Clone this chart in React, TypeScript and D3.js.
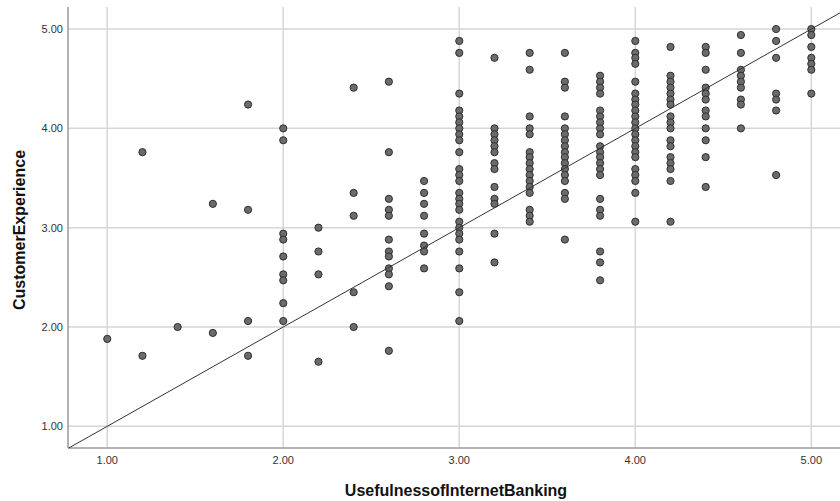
import React, { useEffect, useRef } from "react";
import * as d3 from "d3";

// UsefulnessofInternetBanking levels (x) and CustomerExperience values (y) per level
const xLevels = [1.0, 1.2, 1.4, 1.6, 1.8, 2.0, 2.2, 2.4, 2.6, 2.8, 3.0, 3.2, 3.4, 3.6, 3.8, 4.0, 4.2, 4.4, 4.6, 4.8, 5.0];

const ce_1_0 = [1.88];
const ce_1_2 = [3.76, 1.71];
const ce_1_4 = [2.0];
const ce_1_6 = [3.24, 1.94];
const ce_1_8 = [4.24, 3.18, 2.06, 1.71];
const ce_2_0 = [4.0, 3.88, 2.94, 2.88, 2.71, 2.53, 2.47, 2.24, 2.06];
const ce_2_2 = [3.0, 2.76, 2.53, 1.65];
const ce_2_4 = [4.41, 3.35, 3.12, 2.35, 2.0];
const ce_2_6 = [4.47, 3.76, 3.29, 3.18, 3.12, 2.88, 2.76, 2.71, 2.59, 2.53, 2.41, 1.76];
const ce_2_8 = [3.47, 3.35, 3.24, 3.12, 2.94, 2.82, 2.76, 2.59];
const ce_3_0 = [4.88, 4.76, 4.35, 4.18, 4.12, 4.06, 4.0, 3.94, 3.88, 3.76, 3.59, 3.53, 3.47, 3.35, 3.29, 3.24, 3.18, 3.06, 3.0, 2.94, 2.88, 2.76, 2.59, 2.35, 2.06];
const ce_3_2 = [4.71, 4.0, 3.94, 3.88, 3.82, 3.76, 3.65, 3.59, 3.41, 3.29, 3.24, 2.94, 2.65];
const ce_3_4 = [4.76, 4.59, 4.12, 4.0, 3.94, 3.76, 3.71, 3.65, 3.59, 3.53, 3.47, 3.41, 3.35, 3.18, 3.12, 3.06];
const ce_3_6 = [4.76, 4.47, 4.41, 4.12, 4.0, 3.94, 3.88, 3.82, 3.76, 3.71, 3.65, 3.59, 3.53, 3.47, 3.35, 3.29, 2.88];
const ce_3_8 = [4.53, 4.47, 4.41, 4.35, 4.18, 4.12, 4.06, 4.0, 3.94, 3.82, 3.76, 3.71, 3.65, 3.59, 3.53, 3.29, 3.18, 3.12, 2.76, 2.65, 2.47];
const ce_4_0 = [4.88, 4.76, 4.71, 4.65, 4.47, 4.35, 4.29, 4.24, 4.18, 4.12, 4.06, 4.0, 3.94, 3.88, 3.82, 3.76, 3.71, 3.59, 3.53, 3.47, 3.35, 3.06];
const ce_4_2 = [4.82, 4.53, 4.47, 4.41, 4.35, 4.29, 4.24, 4.12, 4.06, 4.0, 3.88, 3.82, 3.71, 3.65, 3.59, 3.47, 3.06];
const ce_4_4 = [4.82, 4.76, 4.59, 4.41, 4.35, 4.29, 4.18, 4.12, 4.0, 3.88, 3.71, 3.41];
const ce_4_6 = [4.94, 4.76, 4.59, 4.53, 4.47, 4.41, 4.29, 4.24, 4.0];
const ce_4_8 = [5.0, 4.88, 4.71, 4.35, 4.29, 4.18, 3.53];
const ce_5_0 = [5.0, 4.94, 4.82, 4.71, 4.65, 4.59, 4.35];

const columns = [ce_1_0, ce_1_2, ce_1_4, ce_1_6, ce_1_8, ce_2_0, ce_2_2, ce_2_4, ce_2_6, ce_2_8, ce_3_0,
  ce_3_2, ce_3_4, ce_3_6, ce_3_8, ce_4_0, ce_4_2, ce_4_4, ce_4_6, ce_4_8, ce_5_0];

const tickValues = [1, 2, 3, 4, 5];
const xDomain = [0.777, 5.163];
const yDomain = [0.7815, 5.222];

export default function App() {
  const ref = useRef<SVGSVGElement>(null);

  useEffect(() => {
    const W = 840, H = 501;
    const left = 68, right = 840, top = 7, bottom = 448;
    const font = "Arial, 'Liberation Sans', sans-serif";

    const svg = d3.select(ref.current);
    svg.selectAll("*").remove();

    const x = d3.scaleLinear().domain(xDomain).range([left, right]);
    const y = d3.scaleLinear().domain(yDomain).range([bottom, top]);

    const points: { x: number; y: number }[] = [];
    columns.forEach((col, i) => col.forEach(v => points.push({ x: xLevels[i], y: v })));

    // grid
    svg.append("g").selectAll("line").data(tickValues).join("line")
      .attr("x1", d => x(d)).attr("x2", d => x(d))
      .attr("y1", top).attr("y2", bottom)
      .attr("stroke", "#d6d6d6").attr("stroke-width", 1.5);
    svg.append("g").selectAll("line").data(tickValues).join("line")
      .attr("x1", left).attr("x2", right)
      .attr("y1", d => y(d)).attr("y2", d => y(d))
      .attr("stroke", "#d6d6d6").attr("stroke-width", 1.5);

    // axis lines
    svg.append("line").attr("x1", left).attr("x2", left).attr("y1", top).attr("y2", bottom)
      .attr("stroke", "#9a9a9a").attr("stroke-width", 1.5);
    svg.append("line").attr("x1", left).attr("x2", right).attr("y1", bottom).attr("y2", bottom)
      .attr("stroke", "#9a9a9a").attr("stroke-width", 1.5);

    // tick labels
    svg.append("g").selectAll("text").data(tickValues).join("text")
      .attr("x", d => x(d)).attr("y", bottom + 16)
      .attr("text-anchor", "middle")
      .style("font-family", font).style("font-size", "11px")
      .attr("fill", "#333")
      .text(d => d3.format(".2f")(d));
    svg.append("g").selectAll("text").data(tickValues).join("text")
      .attr("x", left - 5).attr("y", d => y(d)).attr("dy", "0.35em")
      .attr("text-anchor", "end")
      .style("font-family", font).style("font-size", "11px")
      .attr("fill", "#333")
      .text(d => d3.format(".2f")(d));

    // points
    svg.append("g").selectAll("circle").data(points).join("circle")
      .attr("cx", d => x(d.x)).attr("cy", d => y(d.y))
      .attr("r", 3.6)
      .attr("fill", "#6b6b6b").attr("stroke", "#2e2e2e").attr("stroke-width", 1);

    // reference line y = x
    const lo = Math.max(xDomain[0], yDomain[0]);
    const hi = Math.min(xDomain[1], yDomain[1]);
    svg.append("line")
      .attr("x1", x(lo)).attr("y1", y(lo)).attr("x2", x(hi)).attr("y2", y(hi))
      .attr("stroke", "#333").attr("stroke-width", 1);

    // axis titles
    svg.append("text")
      .attr("x", 456).attr("y", 496)
      .attr("text-anchor", "middle")
      .style("font-family", font).style("font-size", "16px")
      .style("font-weight", "bold").attr("fill", "#111")
      .text("UsefulnessofInternetBanking");
    svg.append("text")
      .attr("transform", `translate(25, 230) rotate(-90)`)
      .attr("text-anchor", "middle")
      .style("font-family", font).style("font-size", "16px")
      .style("font-weight", "bold").attr("fill", "#111")
      .text("CustomerExperience");

    svg.attr("width", W).attr("height", H);
  }, []);

  return (
    <svg ref={ref} width={840} height={501}
      style={{ position: "absolute", left: 0, top: 0, background: "#fff" }} />
  );
}
